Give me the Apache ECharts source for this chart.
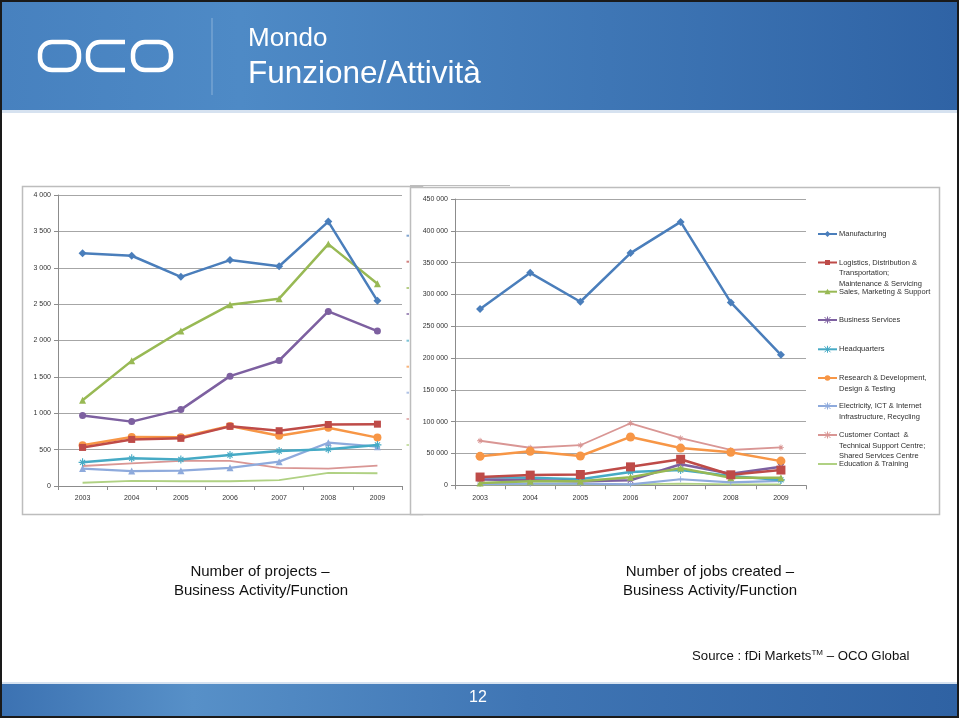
<!DOCTYPE html>
<html><head><meta charset="utf-8">
<script src="https://cdn.jsdelivr.net/npm/echarts@6/dist/echarts.min.js"></script>
<style>html,body{margin:0;padding:0;background:#fff}#c{width:959px;height:718px}</style>
</head><body><div id="c"></div>
<script>
// ---- data ----
const years = ['2003','2004','2005','2006','2007','2008','2009'];
const seriesNames = ['Manufacturing','Logistics, Distribution &\nTransportation;\nMaintenance & Servicing','Sales, Marketing & Support','Business Services','Headquarters','Research & Development,\nDesign & Testing','Electricity, ICT & Internet\nInfrastructure, Recycling','Customer Contact  &\nTechnical Support Centre;\nShared Services Centre','Education & Training'];
// number of projects
const projManufacturing = [3200, 3165, 2875, 3105, 3020, 3635, 2545];
const projLogistics     = [530, 640, 655, 820, 760, 845, 850];
const projSales         = [1180, 1720, 2130, 2490, 2575, 3325, 2780];
const projBusiness      = [970, 885, 1050, 1510, 1725, 2400, 2130];
const projHQ            = [325, 380, 365, 425, 480, 505, 565];
const projRD            = [560, 675, 670, 825, 690, 800, 665];
const projElectricity   = [240, 205, 210, 250, 335, 595, 540];
const projCustomer      = [275, 310, 345, 345, 250, 240, 280];
const projEducation     = [45, 70, 65, 65, 80, 180, 175];
// number of jobs created
const jobsManufacturing = [277000, 334000, 288500, 365000, 414000, 287500, 205000];
const jobsLogistics     = [13000, 16000, 17000, 29000, 41000, 16500, 24000];
const jobsSales         = [3500, 6500, 6500, 12500, 27000, 12000, 12000];
const jobsBusiness      = [9000, 8000, 6500, 8000, 33000, 18000, 29000];
const jobsHQ            = [12500, 12000, 9500, 21000, 24000, 14500, 8500];
const jobsRD            = [45500, 53500, 46000, 76000, 58500, 52000, 38000];
const jobsElectricity   = [2000, 2500, 2500, 1500, 9500, 4500, 7000];
const jobsCustomer      = [70000, 59000, 63000, 97500, 74000, 55500, 59500];
const jobsEducation     = [1000, 1500, 1500, 1500, 2500, 1500, 1500];
const projTicks = {min:0, max:4000, interval:500};
const jobsTicks = {min:0, max:450000, interval:50000};

// ---- styles ----
const colors = ['#4a7ebb','#be4b48','#98b954','#7d60a0','#46aac5','#f79646','#8eaadc','#d99694','#b0d183'];
const ASTER = 'path://M0,4.3H10V5.7H0Z M4.3,0H5.7V10H4.3Z M1.3,2.3L2.3,1.3L8.7,7.7L7.7,8.7Z M7.7,1.3L8.7,2.3L2.3,8.7L1.3,7.7Z';
const XMARK = 'path://M0,1L1,0L10,9L9,10Z M9,0L10,1L1,10L0,9Z';
const PLUS = 'path://M0,4.3H10V5.7H0Z M4.3,0H5.7V10H4.3Z';
const leftSym  = [['diamond',8],['rect',7],['triangle',7],['circle',7],[ASTER,8],['circle',8],['triangle',7],['none',0],['none',0]];
const rightSym = [['diamond',8],['rect',9],['triangle',7],[XMARK,6],[ASTER,8],['circle',9],[PLUS,6],[ASTER,6],['none',0]];
const lineWidths = [2.5,2.5,2.5,2.5,2.5,2.5,2.2,1.8,1.8];
const projData = [projManufacturing,projLogistics,projSales,projBusiness,projHQ,projRD,projElectricity,projCustomer,projEducation];
const jobsData = [jobsManufacturing,jobsLogistics,jobsSales,jobsBusiness,jobsHQ,jobsRD,jobsElectricity,jobsCustomer,jobsEducation];

const fmt = v => String(v).replace(/\B(?=(\d{3})+(?!\d))/g, ' ');
const FONT = 'Liberation Sans';

function axisPair(idx){
  return {
    x: {type:'category', gridIndex:idx, data:years, boundaryGap:true,
      axisLine:{lineStyle:{color:'#8c8c8c'}}, axisTick:{show:true,length:4,lineStyle:{color:'#8c8c8c'}},
      axisLabel:{color:'#333',fontSize:7,fontFamily:FONT,margin:9}},
    y: {type:'value', gridIndex:idx,
      axisLine:{show:true,lineStyle:{color:'#8c8c8c'}}, axisTick:{show:true,length:4,lineStyle:{color:'#8c8c8c'}},
      splitLine:{lineStyle:{color:'#a6a6a6',width:1}},
      axisLabel:{color:'#333',fontSize:7,fontFamily:FONT,margin:7,formatter:fmt}}
  };
}
const a0 = axisPair(0), a1 = axisPair(1);
Object.assign(a0.y, projTicks);
Object.assign(a1.y, jobsTicks);

const series = [];
projData.forEach((d,i)=>series.push({type:'line', xAxisIndex:0, yAxisIndex:0, data:d, name:'p'+i,
  symbol:leftSym[i][0], symbolSize:leftSym[i][1], showSymbol:leftSym[i][0]!=='none',
  lineStyle:{color:colors[i],width:lineWidths[i]}, itemStyle:{color:colors[i]}, z:20-i, animation:false}));
jobsData.forEach((d,i)=>series.push({type:'line', xAxisIndex:1, yAxisIndex:1, data:d, name:'j'+i,
  symbol:rightSym[i][0], symbolSize:rightSym[i][1], showSymbol:rightSym[i][0]!=='none',
  lineStyle:{color:colors[i],width:lineWidths[i]}, itemStyle:{color:colors[i]}, z:20-i, animation:false}));

// ---- legend (right chart) built from names and styles ----
const legendY = [234, 262.5, 291.7, 320, 349.3, 378, 406, 435, 464];
const hiddenLegendY = [235.7, 261.7, 288, 314, 340.7, 366.7, 392.7, 419, 445];
const legendEls = [];
function ln(x1,y1,x2,y2,c,w){ return {type:'line', shape:{x1,y1,x2,y2}, style:{stroke:c,lineWidth:w}, z:51}; }
seriesNames.forEach((n,i)=>{
  const y = legendY[i], c = colors[i];
  legendEls.push({type:'line', shape:{x1:818,y1:y,x2:837,y2:y}, style:{stroke:c,lineWidth:2}, z:50});
  const s = rightSym[i][0];
  if (s==='diamond') legendEls.push({type:'polygon', shape:{points:[[827.5,y-3],[830.5,y],[827.5,y+3],[824.5,y]]}, style:{fill:c}, z:51});
  else if (s==='rect') legendEls.push({type:'rect', shape:{x:825,y:y-2.5,width:5,height:5}, style:{fill:c}, z:51});
  else if (s==='triangle') legendEls.push({type:'polygon', shape:{points:[[827.5,y-3],[830.5,y+2.5],[824.5,y+2.5]]}, style:{fill:c}, z:51});
  else if (s==='circle') legendEls.push({type:'circle', shape:{cx:827.5,cy:y,r:2.8}, style:{fill:c}, z:51});
  else if (s!=='none') {
    legendEls.push(ln(824.5,y-3,830.5,y+3,c,1));
    legendEls.push(ln(830.5,y-3,824.5,y+3,c,1));
    legendEls.push(ln(827.5,y-3.5,827.5,y+3.5,c,1));
  }
  legendEls.push({type:'text', x:839, y:y-5.25, style:{text:n, fill:'#303030', font:'7.5px '+FONT, lineHeight:10.5, textVerticalAlign:'top'}, z:52});
  // cut-off legend of the left chart (only its first pixels visible)
  legendEls.push({type:'rect', shape:{x:406.5,y:hiddenLegendY[i]-1,width:2.5,height:2}, style:{fill:c,opacity:0.7}, z:-14.5});
});

const W = {fill:null,stroke:'#fff',lineWidth:4.5};
const graphics = [
  // slide frame and header
  {type:'rect', shape:{x:0,y:0,width:959,height:718}, style:{fill:'#fff'}, z:-30},
  {type:'rect', shape:{x:2,y:2,width:955,height:109}, style:{fill:new echarts.graphic.LinearGradient(0,0,1,0,[{offset:0,color:'#4781bf'},{offset:0.25,color:'#4e8ac6'},{offset:1,color:'#2f63a5'}])}, z:-20},
  {type:'rect', shape:{x:2,y:110,width:955,height:3}, style:{fill:'#d6e2f0'}, z:-19},
  // OCO logo
  {type:'rect', shape:{x:40,y:42,width:39,height:28,r:12}, style:W, z:-10},
  {type:'rect', shape:{x:133,y:42,width:38,height:28,r:12}, style:W, z:-10},
  {type:'line', shape:{x1:100,y1:42,x2:125,y2:42}, style:W, z:-10},
  {type:'line', shape:{x1:100,y1:70,x2:125,y2:70}, style:W, z:-10},
  {type:'line', shape:{x1:88,y1:54,x2:88,y2:58}, style:W, z:-10},
  {type:'arc', shape:{cx:100,cy:54,r:12,startAngle:Math.PI,endAngle:Math.PI*1.5,clockwise:true}, style:W, z:-10},
  {type:'arc', shape:{cx:100,cy:58,r:12,startAngle:Math.PI*0.5,endAngle:Math.PI,clockwise:true}, style:W, z:-10},
  {type:'line', shape:{x1:212,y1:18,x2:212,y2:95}, style:{stroke:'rgba(255,255,255,0.35)',lineWidth:1}, z:-10},
  {type:'text', x:248, y:39, style:{text:'Mondo', fill:'#fff', font:'26px '+FONT, textVerticalAlign:'middle'}, z:-10},
  {type:'text', x:248, y:74, style:{text:'Funzione/Attività', fill:'#fff', font:'31.5px '+FONT, textVerticalAlign:'middle'}, z:-10},
  // footer
  {type:'rect', shape:{x:2,y:683,width:955,height:33}, style:{fill:new echarts.graphic.LinearGradient(0,0,1,0,[{offset:0,color:'#3c72b2'},{offset:0.2,color:'#5790c8'},{offset:0.55,color:'#3f75b4'},{offset:1,color:'#2f62a3'}])}, z:-20},
  {type:'rect', shape:{x:2,y:682,width:955,height:2}, style:{fill:'#d6e2f0'}, z:-19},
  {type:'text', x:478, y:698, style:{text:'12', fill:'#fff', font:'16px '+FONT, textAlign:'center', textVerticalAlign:'middle'}, z:-10},
  {type:'rect', shape:{x:1,y:1,width:957,height:716}, style:{fill:null,stroke:'#1a1a1a',lineWidth:2}, z:60},
  // chart panels
  {type:'rect', shape:{x:22.5,y:186.5,width:400,height:328}, style:{fill:'#fff',stroke:'#bdbdbd',lineWidth:1.5}, z:-15},
  {type:'rect', shape:{x:410.5,y:187.5,width:529,height:327}, style:{fill:'#fff',stroke:'#bdbdbd',lineWidth:1.5}, z:-14},
  {type:'line', shape:{x1:410,y1:185.5,x2:510,y2:185.5}, style:{stroke:'#bdbdbd',lineWidth:1}, z:-13},
  // captions
  {type:'text', x:260, y:572, style:{text:'Number of projects –', fill:'#111', font:'15px '+FONT, textAlign:'center', textVerticalAlign:'middle'}},
  {type:'text', x:261, y:591, style:{text:'Business Activity/Function', fill:'#111', font:'15px '+FONT, textAlign:'center', textVerticalAlign:'middle'}},
  {type:'text', x:710, y:572, style:{text:'Number of jobs created –', fill:'#111', font:'15px '+FONT, textAlign:'center', textVerticalAlign:'middle'}},
  {type:'text', x:710, y:591, style:{text:'Business Activity/Function', fill:'#111', font:'15px '+FONT, textAlign:'center', textVerticalAlign:'middle'}},
  {type:'text', x:692, y:656, style:{text:'{a|Source : fDi Markets}{b|TM}{a| – OCO Global}', textVerticalAlign:'middle',
     rich:{a:{fontSize:13.2,fontFamily:FONT,fill:'#111'}, b:{fontSize:8,fontFamily:FONT,fill:'#111',padding:[0,0,7,0]}}}}
].concat(legendEls);

const chart = echarts.init(document.getElementById('c'), null, {renderer:'canvas'});
chart.setOption({
  animation:false,
  backgroundColor:'transparent',
  grid:[{left:58, top:195, width:344, height:291},{left:455, top:199, width:351, height:286.3}],
  xAxis:[a0.x, a1.x],
  yAxis:[a0.y, a1.y],
  series: series,
  graphic: {elements: graphics}
});
</script></body></html>
